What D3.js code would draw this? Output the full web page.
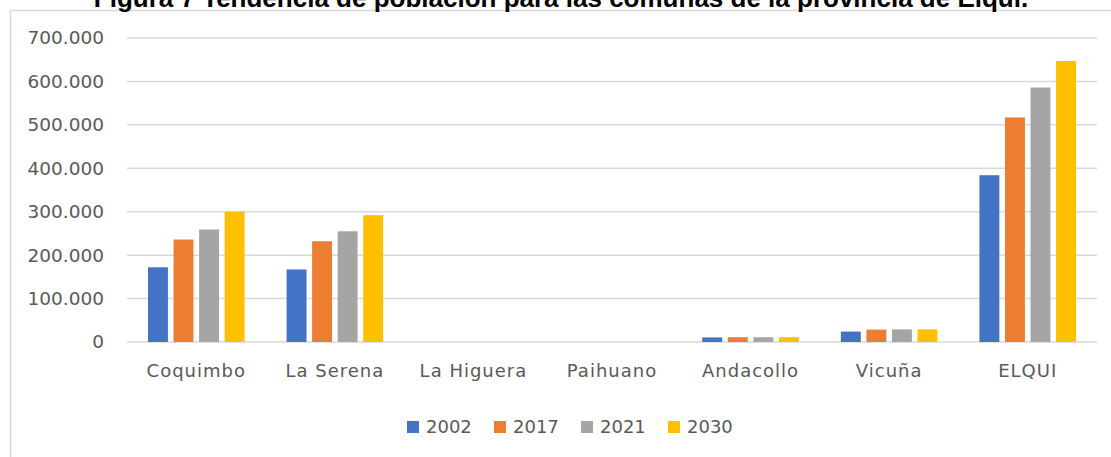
<!DOCTYPE html>
<html>
<head>
<meta charset="utf-8">
<script src="https://cdn.jsdelivr.net/npm/d3@7"></script>
<style>
  body { margin: 0; background: #fff; }
  svg { display: block; }
</style>
</head>
<body>
<div id="chart"></div>
<script>
// data
const comunas = ["Coquimbo", "La Serena", "La Higuera", "Paihuano", "Andacollo", "Vicuña", "ELQUI"];
const years = ["2002", "2017", "2021", "2030"];
const pob2002 = [172000, 167000, 0, 0, 10500, 24000, 384000];
const pob2017 = [236000, 232000, 0, 0, 11000, 28500, 517000];
const pob2021 = [259000, 255000, 0, 0, 11000, 29000, 586000];
const pob2030 = [300000, 292000, 0, 0, 11000, 29000, 647000];
const yTicks = [0, 100000, 200000, 300000, 400000, 500000, 600000, 700000];
const colors = ["#4472C4", "#ED7D31", "#A5A5A5", "#FFC000"];

const series = [pob2002, pob2017, pob2021, pob2030];
const rows = comunas.map((c, i) => ({comuna: c, values: years.map((y, j) => ({year: y, value: series[j][i]}))}));

const W = 1111, H = 457;
const margin = {top: 38, right: 14, bottom: 115, left: 127};
const width = W - margin.left - margin.right;   // 970
const height = H - margin.top - margin.bottom;  // 304

const svg = d3.select("#chart").append("svg")
  .attr("width", W)
  .attr("height", H);

// chart area frame
svg.append("rect")
  .attr("x", 10.5)
  .attr("y", 10.5)
  .attr("width", W + 20)
  .attr("height", H + 20)
  .attr("fill", "none")
  .attr("stroke", "#d9d9d9")
  .attr("stroke-width", 1.5);

// title, cropped at the top like the source
svg.append("text")
  .attr("x", 561)
  .attr("y", 6.5)
  .attr("text-anchor", "middle")
  .attr("font-family", "Liberation Sans, Arial, sans-serif")
  .attr("font-weight", "bold")
  .attr("font-size", 26)
  .attr("fill", "#000")
  .text("Figura 7 Tendencia de población para las comunas de la provincia de Elqui.");

const g = svg.append("g")
  .attr("transform", `translate(${margin.left},${margin.top})`);

const y = d3.scaleLinear()
  .domain([0, 700000])
  .range([height, 0]);

const x0 = d3.scaleBand()
  .domain(comunas)
  .range([0, width])
  .padding(0);

const inset = 21;
const x1 = d3.scaleBand()
  .domain(years)
  .range([inset, x0.bandwidth() - inset])
  .paddingInner(0.22)
  .paddingOuter(0);

const color = d3.scaleOrdinal().domain(years).range(colors);

const fmt = d3.formatLocale({decimal: ",", thousands: ".", grouping: [3], currency: ["$", ""]}).format(",.0f");

// gridlines
g.append("g")
  .selectAll("line")
  .data(yTicks)
  .join("line")
    .attr("x1", 0)
    .attr("x2", width)
    .attr("y1", d => y(d))
    .attr("y2", d => y(d))
    .attr("stroke", "#d9d9d9")
    .attr("stroke-width", 1.5);

// y axis labels
const yAxis = g.append("g")
  .call(d3.axisLeft(y).tickValues(yTicks).tickFormat(fmt).tickSize(0).tickPadding(23));
yAxis.select(".domain").remove();
yAxis.selectAll("text")
  .attr("font-family", "DejaVu Sans, sans-serif")
  .attr("font-size", 18.5)
  .attr("fill", "#595959");

// bars
g.append("g")
  .selectAll("g")
  .data(rows)
  .join("g")
    .attr("transform", d => `translate(${x0(d.comuna)},0)`)
  .selectAll("rect")
  .data(d => d.values)
  .join("rect")
    .attr("x", d => x1(d.year))
    .attr("y", d => y(d.value))
    .attr("width", x1.bandwidth())
    .attr("height", d => y(0) - y(d.value))
    .attr("fill", d => color(d.year));

// x axis labels
const xAxis = g.append("g")
  .attr("transform", `translate(0,${height})`)
  .call(d3.axisBottom(x0).tickSize(0).tickPadding(22));
xAxis.select(".domain").remove();
xAxis.selectAll("text")
  .attr("font-family", "DejaVu Sans, sans-serif")
  .attr("font-size", 18)
  .attr("letter-spacing", 1)
  .attr("fill", "#595959");

// legend
const legend = svg.append("g")
  .attr("transform", "translate(407,421)");
const item = legend.selectAll("g")
  .data(years)
  .join("g")
    .attr("transform", (d, i) => `translate(${i * 87},0)`);
item.append("rect")
  .attr("width", 12)
  .attr("height", 12)
  .attr("fill", d => color(d));
item.append("text")
  .attr("x", 19)
  .attr("y", 6)
  .attr("dy", "0.36em")
  .attr("font-family", "DejaVu Sans, sans-serif")
  .attr("font-size", 18)
  .attr("fill", "#595959")
  .text(d => d);
</script>
</body>
</html>
